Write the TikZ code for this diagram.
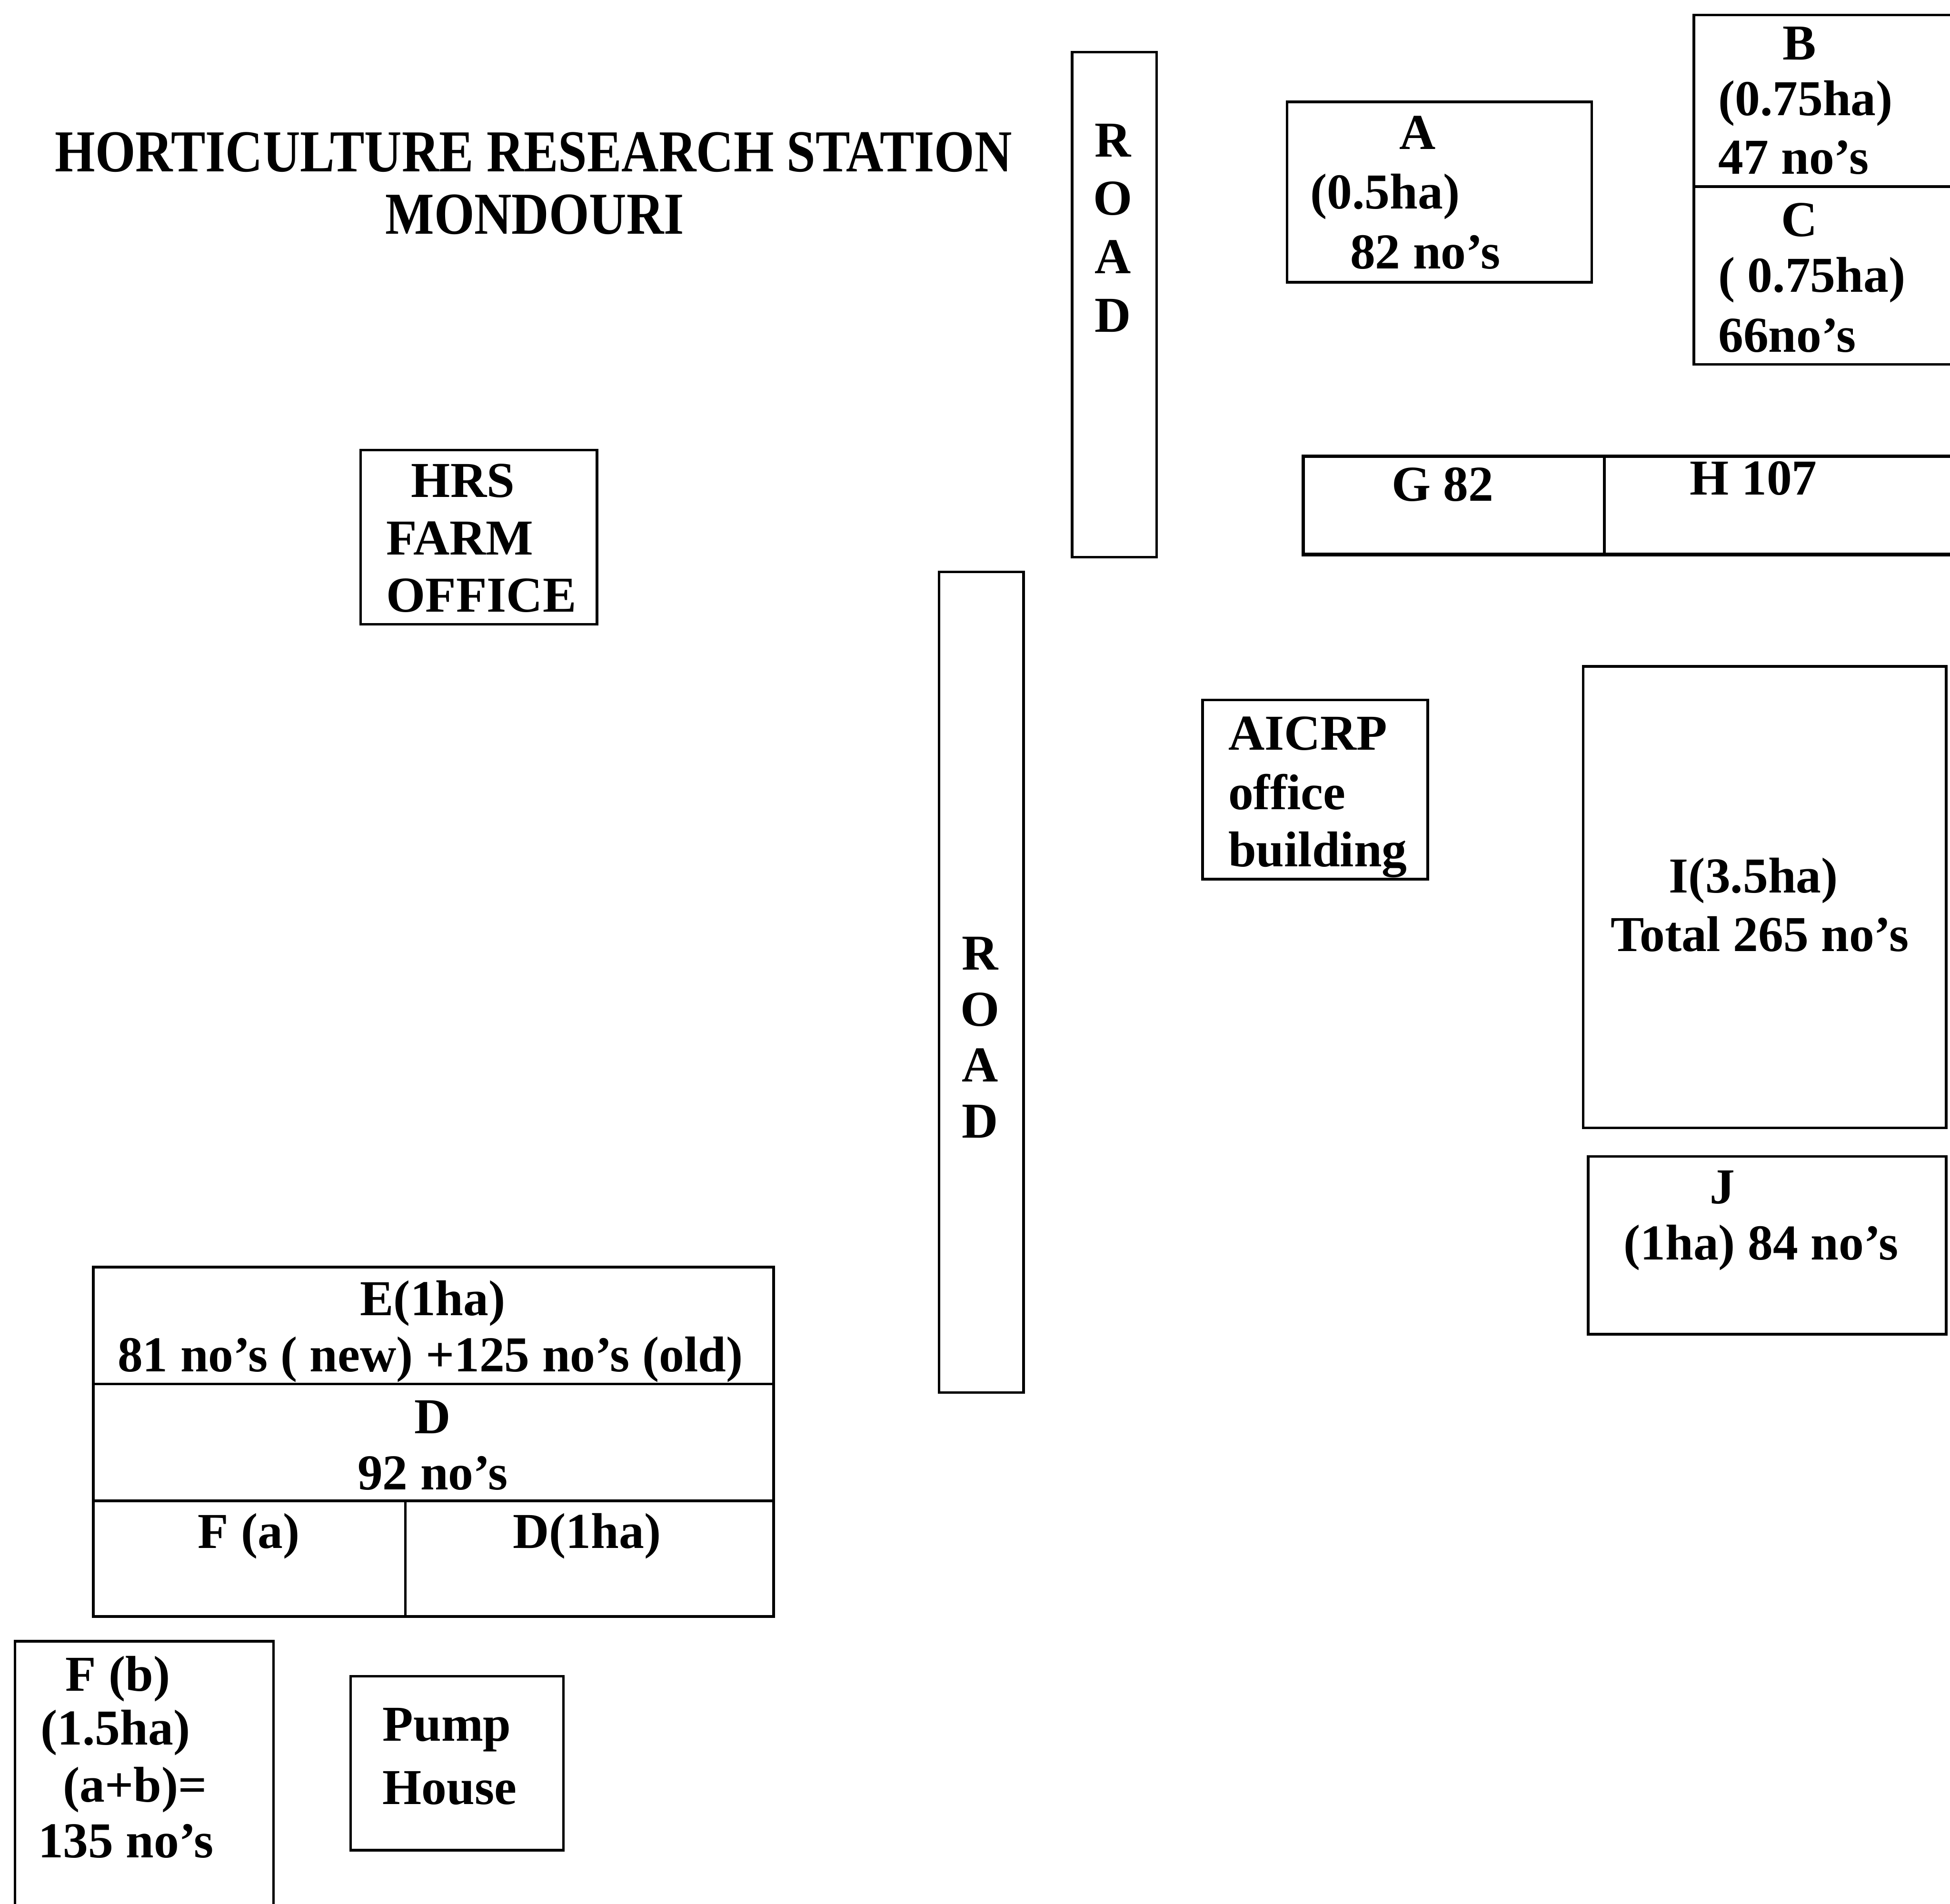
\documentclass[tikz,border=0pt]{standalone}
\usepackage{fontspec}
\setmainfont{Liberation Serif}
\usetikzlibrary{positioning}

\tikzset{
  lot/.style={draw,line width=0.6pt},
  lbl/.style={font=\fontsize{11.5}{13}\selectfont\bfseries,inner sep=0pt},
  ttl/.style={font=\fontsize{13.6}{15}\selectfont\bfseries,inner sep=0pt,xscale=0.87}
}

\begin{document}
\begin{tikzpicture}[x=0.1mm,y=-0.1mm]
  \useasboundingbox (0,0) rectangle (1568,1531);
  % title
  \node[ttl,anchor=base] (title1) at (429,138) {HORTICULTURE RESEARCH STATION};
  \node[ttl,anchor=base] (title2) at (430,188) {MONDOURI};
  % upper road
  \draw[lot] (862,42) rectangle (930,448);
  \foreach \l [count=\i] in {R,O,A,D} \node[lbl,anchor=base] (roadN-\i) at (895,{79+47*\i}) {\l};
  % lower road
  \draw[lot] (755,460) rectangle (823,1120);
  \foreach \l [count=\i] in {R,O,A,D} \node[lbl,anchor=base] (roadS-\i) at (788,{735+45*\i}) {\l};
  % block A
  \draw[lot] (1035,82) rectangle (1280,227);
  \node[lbl,anchor=base] (A1) at (1140,120) {A};
  \node[lbl,anchor=base west] (A2) at (1053,168) {(0.5ha)};
  \node[lbl,anchor=base west] (A3) at (1085,216) {82 no’s};
  % blocks B and C
  \draw[lot] (1362,12) rectangle (1580,293);
  \draw[lot] (1362,150) -- (1580,150);
  \node[lbl,anchor=base] (B1) at (1447,48) {B};
  \node[lbl,anchor=base west] (B2) at (1381,93) {(0.75ha)};
  \node[lbl,anchor=base west] (B3) at (1381,140) {47 no’s};
  \node[lbl,anchor=base] (C1) at (1447,190) {C};
  \node[lbl,anchor=base west] (C2) at (1381,235) {( 0.75ha)};
  \node[lbl,anchor=base west] (C3) at (1381,283) {66no’s};
  % blocks G and H
  \draw[lot,line width=0.8pt] (1048,367) rectangle (1580,446);
  \draw[lot] (1290,367) -- (1290,446);
  \node[lbl,anchor=base] (G) at (1160,403) {G 82};
  \node[lbl,anchor=base] (H) at (1410,398) {H 107};
  % farm office
  \draw[lot] (290,362) rectangle (480,502);
  \node[lbl,anchor=base west] (hrs1) at (330,400) {HRS};
  \node[lbl,anchor=base west] (hrs2) at (310,446) {FARM};
  \node[lbl,anchor=base west] (hrs3) at (310,492) {OFFICE};
  % AICRP building
  \draw[lot] (967,563) rectangle (1148,707);
  \node[lbl,anchor=base west] (aic1) at (987,603) {AICRP};
  \node[lbl,anchor=base west] (aic2) at (987,651) {office};
  \node[lbl,anchor=base west] (aic3) at (987,697) {building};
  % blocks I and J
  \draw[lot] (1273,536) rectangle (1565,907);
  \node[lbl,anchor=base] (I1) at (1410,718) {I(3.5ha)};
  \node[lbl,anchor=base] (I2) at (1415,765) {Total 265 no’s};
  \draw[lot] (1277,930) rectangle (1565,1073);
  \node[lbl,anchor=base] (J1) at (1385,968) {J};
  \node[lbl,anchor=base] (J2) at (1416,1013) {(1ha) 84 no’s};
  % blocks E, D, F(a)
  \draw[lot] (75,1019) rectangle (622,1300);
  \draw[lot] (75,1113) -- (622,1113);
  \draw[lot] (75,1207) -- (622,1207);
  \draw[lot] (326,1207) -- (326,1300);
  \node[lbl,anchor=base] (E1) at (348,1058) {E(1ha)};
  \node[lbl,anchor=base] (E2) at (346,1103) {81 no’s ( new) +125 no’s (old)};
  \node[lbl,anchor=base] (D1) at (348,1153) {D};
  \node[lbl,anchor=base] (D2) at (348,1198) {92 no’s};
  \node[lbl,anchor=base] (Fa) at (200,1245) {F (a)};
  \node[lbl,anchor=base] (D3) at (472,1245) {D(1ha)};
  % block F(b)
  \draw[lot] (12,1320) rectangle (220,1545);
  \node[lbl,anchor=base west] (Fb1) at (52,1360) {F (b)};
  \node[lbl,anchor=base west] (Fb2) at (32,1403) {(1.5ha)};
  \node[lbl,anchor=base west] (Fb3) at (50,1449) {(a+b)=};
  \node[lbl,anchor=base west] (Fb4) at (30,1494) {135 no’s};
  % pump house
  \draw[lot] (282,1348) rectangle (453,1488);
  \node[lbl,anchor=base west] (pump1) at (307,1400) {Pump};
  \node[lbl,anchor=base west] (pump2) at (307,1451) {House};
\end{tikzpicture}
\end{document}
